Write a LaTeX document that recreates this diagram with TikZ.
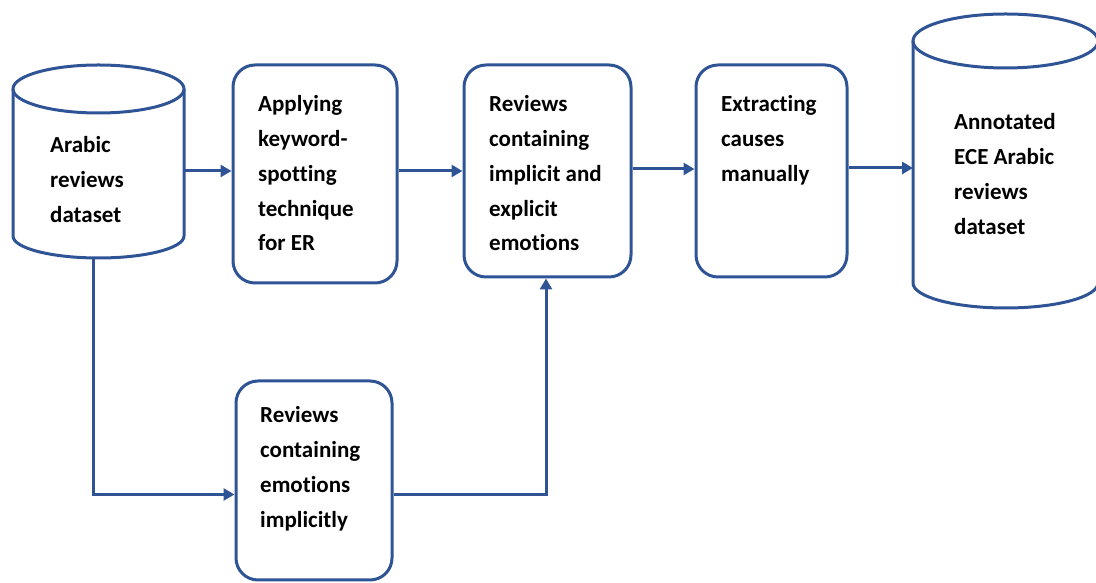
\documentclass[tikz,border=0pt]{standalone}
\usepackage{fontspec}
\setmainfont{Carlito}[Ligatures=NoCommon]
\usetikzlibrary{arrows.meta,calc}
\definecolor{lblue}{HTML}{2F5496}
\tikzset{
  box/.style={draw=lblue, line width=3pt, rounded corners=22pt, inner sep=0pt},
  cylline/.style={draw=lblue, line width=3pt},
  anchorbox/.style={inner sep=0pt, outer sep=0pt},
  txt/.style={anchor=base west, inner sep=0pt, align=left, font=\fontsize{23}{34.7}\selectfont\bfseries},
  arr/.style={draw=lblue, line width=3pt, -{Triangle[length=11pt,width=12pt]}},
}
\begin{document}
\begin{tikzpicture}[x=1pt,y=1pt]
\useasboundingbox (0,0) rectangle (1096,583);
% cylinder 1
\draw[cylline] (13,494) -- (13,347) arc[start angle=180, end angle=360, x radius=85.5, y radius=22] -- (184,494);
\draw[cylline] (98.5,494) ellipse [x radius=85.5, y radius=24];
\node[anchorbox, minimum width=171pt, minimum height=169pt] (c1) at (98.5,409.5) {};
% cylinder 2
\draw[cylline] (913,542) -- (913,300) arc[start angle=180, end angle=360, x radius=92.5, y radius=25] -- (1098,542);
\draw[cylline] (1005.5,542) ellipse [x radius=92.5, y radius=27];
\node[anchorbox, minimum width=185pt, minimum height=267pt] (c2) at (1005.5,408.5) {};
% boxes
\node[box, minimum width=164pt, minimum height=218pt] (b1) at (315,409) {};
\node[box, minimum width=167pt, minimum height=212pt] (b2) at (547.5,412) {};
\node[box, minimum width=151pt, minimum height=212pt] (b3) at (771.5,412) {};
\node[box, minimum width=156pt, minimum height=199pt] (b4) at (314,102.5) {};
% texts (anchored at the baseline of the last line)
\node[txt] (t1) at (50,360.6) {Arabic\\reviews\\dataset};
\node[txt] (t2) at (258,332.2) {Applying\\keyword-\\spotting\\technique\\for ER};
\node[txt] (t3) at (489,332.2) {Reviews\\containing\\implicit and\\explicit\\emotions};
\node[txt] (t4) at (721,401.6) {Extracting\\causes\\manually};
\node[txt] (t5) at (954,348.9) {Annotated\\ECE Arabic\\reviews\\dataset};
\node[txt] (t6) at (260,55.9) {Reviews\\containing\\emotions\\implicitly};
% connectors
\coordinate (p1) at (93,325);
\coordinate (q3) at ([yshift=3pt]b3.east);
\draw[arr] (c1.east |- b2.west) -- (b1.west |- b2.west);
\draw[arr] (b1.east |- b2.west) -- (b2.west);
\draw[arr] ([yshift=2pt]b2.east) -- ([yshift=2pt]b3.west);
\draw[arr] (q3) -- (c2.west |- q3);
\draw[arr] (p1) |- ([yshift=-14pt]b4.west);
\draw[arr] ([yshift=-14pt]b4.east) -| ([xshift=-1.5pt]b2.south);
\end{tikzpicture}
\end{document}
